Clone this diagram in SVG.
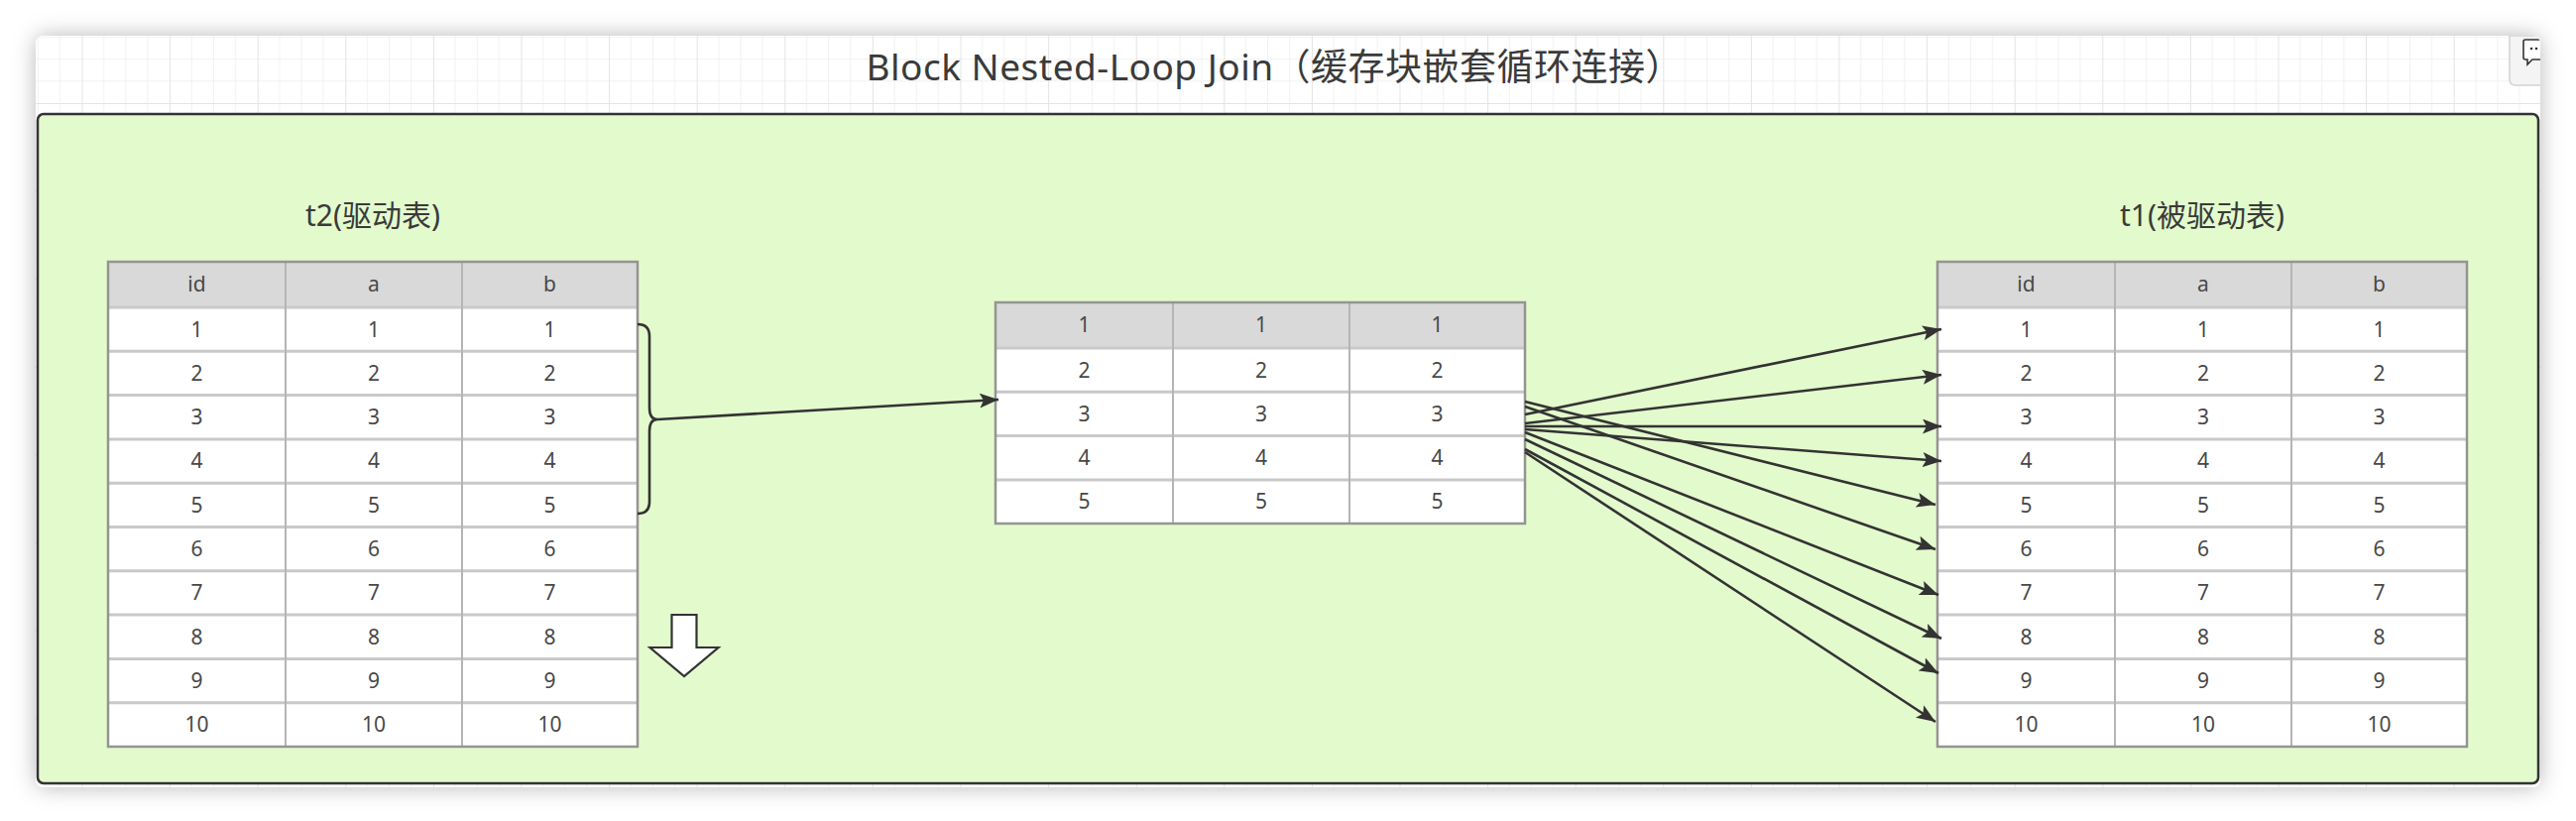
<svg xmlns="http://www.w3.org/2000/svg" width="2598" height="828" viewBox="0 0 2598 828">
<defs>
<filter id="shadow" x="-5%" y="-20%" width="110%" height="140%">
<feDropShadow dx="0" dy="0" stdDeviation="11" flood-color="#000" flood-opacity="0.28"/>
</filter>
<pattern id="grid" patternUnits="userSpaceOnUse" x="82.5" y="15.4" width="88.6" height="88.6">
<path d="M22.15 0V88.6M44.3 0V88.6M66.45 0V88.6M0 22.15H88.6M0 44.3H88.6M0 66.45H88.6" stroke="#f1f1f1" stroke-width="1" fill="none"/>
<path d="M0.5 0V88.6M0 0.5H88.6" stroke="#e4e4e4" stroke-width="1" fill="none"/>
</pattern>
<marker id="ah" markerUnits="userSpaceOnUse" markerWidth="22" markerHeight="15" refX="19" refY="7.5" orient="auto">
<path d="M0,0 L19,7.5 L0,15 L4,7.5 z" fill="#333"/>
</marker>
<clipPath id="canvasClip"><rect x="36" y="36" width="2526" height="758" rx="8"/></clipPath>
</defs>
<style>
.t{font-family:"Noto Sans","Noto Sans CJK SC",sans-serif;fill:#3a3a3a;}
.cell{font-size:21px;text-anchor:middle;fill:#484848;}
.hdr{fill:#d9d9d9;}
.body{fill:#fff;}
.hl{stroke:#c9c9c9;stroke-width:3;}
.vl{stroke:#b5b5b5;stroke-width:2;}
.outer{fill:none;stroke:#949494;stroke-width:2.5;}
.conn{stroke:#333;stroke-width:2.6;fill:none;}
</style>
<rect width="2598" height="828" fill="#fff"/>
<g id="canvas">
<rect x="36" y="36" width="2526" height="758" rx="8" fill="#fff" filter="url(#shadow)"/>
<rect x="36" y="36" width="2526" height="758" rx="8" fill="url(#grid)"/>
<g clip-path="url(#canvasClip)">
<path d="M2531,36 V80 Q2531,86 2537,86 H2566 V36 Z" fill="#f4f4f4" stroke="#d2d2d2" stroke-width="1.5"/>
<path d="M2566,40 H2547 Q2545,40 2545,42 V58 Q2545,60 2547,60 H2549 V65 L2554,60 H2566" fill="#fff" stroke="#333" stroke-width="1.6"/>
<circle cx="2553" cy="49" r="1.3" fill="#333"/>
<circle cx="2558" cy="49" r="1.3" fill="#333"/>
</g>
</g>
<g id="title">
<text class="t" x="1285" y="81" font-size="37" text-anchor="middle" textLength="823">Block Nested-Loop Join（缓存块嵌套循环连接）</text>
</g>
<g id="container">
<rect x="38" y="115" width="2522" height="675" rx="6" fill="#e3facd" stroke="#333" stroke-width="2.5"/>
</g>
<g id="label-t2"><text class="t" x="376" y="228" font-size="30" text-anchor="middle">t2(驱动表)</text></g>
<g id="label-t1"><text class="t" x="2221" y="228" font-size="30" text-anchor="middle">t1(被驱动表)</text></g>

<g id="table-t2">
<rect class="hdr" x="109" y="264" width="534" height="46"/>
<rect class="body" x="109" y="310" width="534" height="443"/>
<path class="hl" d="M109 310H643M109 354.3H643M109 398.6H643M109 442.9H643M109 487.2H643M109 531.5H643M109 575.8H643M109 620.1H643M109 664.4H643M109 708.7H643"/>
<path class="vl" d="M288 264V753M466 264V753"/>
<rect class="outer" x="109" y="264" width="534" height="489"/>
<g class="t cell">
<text x="198.5" y="294">id</text><text x="377" y="294">a</text><text x="554.5" y="294">b</text>
<text x="198.5" y="339.5">1</text><text x="377" y="339.5">1</text><text x="554.5" y="339.5">1</text>
<text x="198.5" y="383.8">2</text><text x="377" y="383.8">2</text><text x="554.5" y="383.8">2</text>
<text x="198.5" y="428.1">3</text><text x="377" y="428.1">3</text><text x="554.5" y="428.1">3</text>
<text x="198.5" y="472.4">4</text><text x="377" y="472.4">4</text><text x="554.5" y="472.4">4</text>
<text x="198.5" y="516.7">5</text><text x="377" y="516.7">5</text><text x="554.5" y="516.7">5</text>
<text x="198.5" y="561">6</text><text x="377" y="561">6</text><text x="554.5" y="561">6</text>
<text x="198.5" y="605.3">7</text><text x="377" y="605.3">7</text><text x="554.5" y="605.3">7</text>
<text x="198.5" y="649.6">8</text><text x="377" y="649.6">8</text><text x="554.5" y="649.6">8</text>
<text x="198.5" y="693.9">9</text><text x="377" y="693.9">9</text><text x="554.5" y="693.9">9</text>
<text x="198.5" y="738.2">10</text><text x="377" y="738.2">10</text><text x="554.5" y="738.2">10</text>
</g>
</g>

<g id="table-buffer">
<rect class="hdr" x="1004" y="305" width="534" height="46"/>
<rect class="body" x="1004" y="351" width="534" height="177"/>
<path class="hl" d="M1004 351H1538M1004 395.3H1538M1004 439.6H1538M1004 483.9H1538"/>
<path class="vl" d="M1183 305V528M1361 305V528"/>
<rect class="outer" x="1004" y="305" width="534" height="223"/>
<g class="t cell">
<text x="1093.5" y="335">1</text><text x="1272" y="335">1</text><text x="1449.5" y="335">1</text>
<text x="1093.5" y="380.5">2</text><text x="1272" y="380.5">2</text><text x="1449.5" y="380.5">2</text>
<text x="1093.5" y="424.8">3</text><text x="1272" y="424.8">3</text><text x="1449.5" y="424.8">3</text>
<text x="1093.5" y="469.1">4</text><text x="1272" y="469.1">4</text><text x="1449.5" y="469.1">4</text>
<text x="1093.5" y="513.4">5</text><text x="1272" y="513.4">5</text><text x="1449.5" y="513.4">5</text>
</g>
</g>

<g id="table-t1">
<rect class="hdr" x="1954" y="264" width="534" height="46"/>
<rect class="body" x="1954" y="310" width="534" height="443"/>
<path class="hl" d="M1954 310H2488M1954 354.3H2488M1954 398.6H2488M1954 442.9H2488M1954 487.2H2488M1954 531.5H2488M1954 575.8H2488M1954 620.1H2488M1954 664.4H2488M1954 708.7H2488"/>
<path class="vl" d="M2133 264V753M2311 264V753"/>
<rect class="outer" x="1954" y="264" width="534" height="489"/>
<g class="t cell">
<text x="2043.5" y="294">id</text><text x="2222" y="294">a</text><text x="2399.5" y="294">b</text>
<text x="2043.5" y="339.5">1</text><text x="2222" y="339.5">1</text><text x="2399.5" y="339.5">1</text>
<text x="2043.5" y="383.8">2</text><text x="2222" y="383.8">2</text><text x="2399.5" y="383.8">2</text>
<text x="2043.5" y="428.1">3</text><text x="2222" y="428.1">3</text><text x="2399.5" y="428.1">3</text>
<text x="2043.5" y="472.4">4</text><text x="2222" y="472.4">4</text><text x="2399.5" y="472.4">4</text>
<text x="2043.5" y="516.7">5</text><text x="2222" y="516.7">5</text><text x="2399.5" y="516.7">5</text>
<text x="2043.5" y="561">6</text><text x="2222" y="561">6</text><text x="2399.5" y="561">6</text>
<text x="2043.5" y="605.3">7</text><text x="2222" y="605.3">7</text><text x="2399.5" y="605.3">7</text>
<text x="2043.5" y="649.6">8</text><text x="2222" y="649.6">8</text><text x="2399.5" y="649.6">8</text>
<text x="2043.5" y="693.9">9</text><text x="2222" y="693.9">9</text><text x="2399.5" y="693.9">9</text>
<text x="2043.5" y="738.2">10</text><text x="2222" y="738.2">10</text><text x="2399.5" y="738.2">10</text>
</g>
</g>

<g id="down-arrow">
<path d="M677.5,620 H702.5 V653 H724.5 L690,682 L655.5,653 H677.5 Z" fill="#fff" stroke="#333" stroke-width="2.2" stroke-linejoin="miter"/>
</g>

<g id="connectors">
<path class="conn" d="M643,327 Q655,327 655,339 V411 Q655,423 663,423 Q655,423 655,435 V506 Q655,518 643,518"/>
<line class="conn" x1="663" y1="423" x2="1007" y2="403" marker-end="url(#ah)"/>
<line class="conn" x1="1538" y1="418" x2="1958" y2="332" marker-end="url(#ah)"/>
<line class="conn" x1="1538" y1="427" x2="1958" y2="378" marker-end="url(#ah)"/>
<line class="conn" x1="1538" y1="430" x2="1958" y2="430" marker-end="url(#ah)"/>
<line class="conn" x1="1538" y1="433" x2="1958" y2="465" marker-end="url(#ah)"/>
<line class="conn" x1="1538" y1="405" x2="1952" y2="509" marker-end="url(#ah)"/>
<line class="conn" x1="1538" y1="410" x2="1952" y2="554" marker-end="url(#ah)"/>
<line class="conn" x1="1538" y1="436" x2="1955" y2="600" marker-end="url(#ah)"/>
<line class="conn" x1="1538" y1="443" x2="1958" y2="644" marker-end="url(#ah)"/>
<line class="conn" x1="1538" y1="453" x2="1955" y2="679" marker-end="url(#ah)"/>
<line class="conn" x1="1538" y1="456" x2="1952" y2="728" marker-end="url(#ah)"/>
</g>
</svg>
